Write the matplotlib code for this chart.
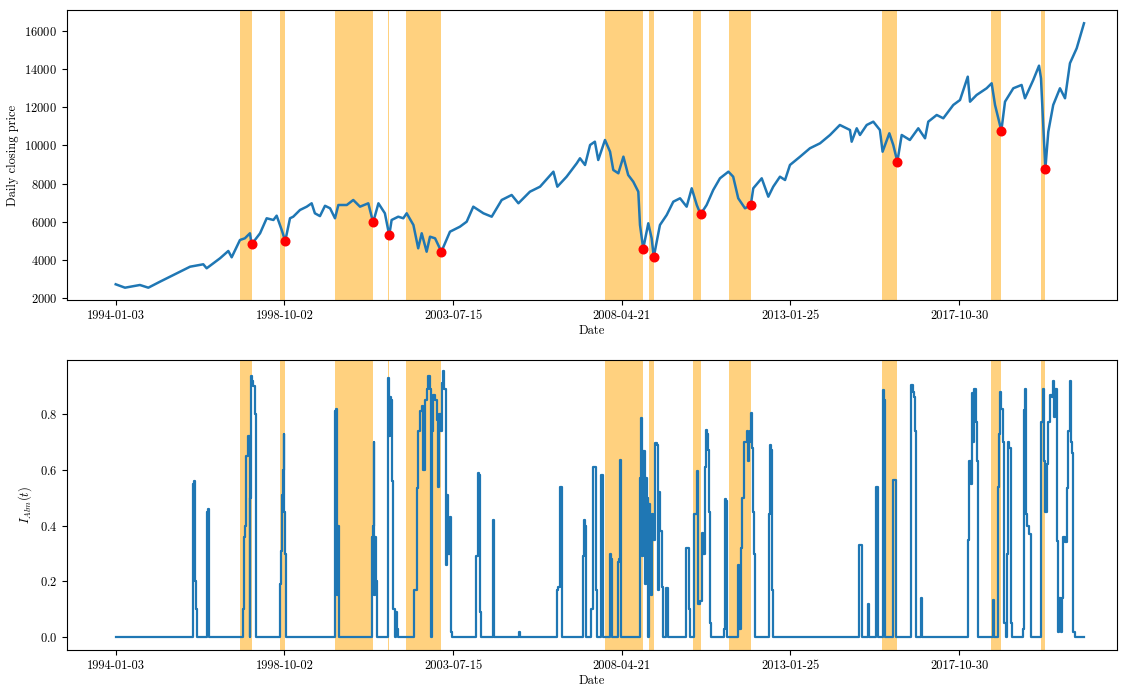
import numpy as np
import matplotlib
matplotlib.use('Agg')
import matplotlib.pyplot as plt

plt.rcParams['font.family'] = 'serif'
plt.rcParams['font.serif'] = ['cmr10']
plt.rcParams['mathtext.fontset'] = 'cm'
plt.rcParams['axes.formatter.use_mathtext'] = True
plt.rcParams['font.size'] = 9

# trading-day index -> date labels
tick_pos = [0, 1200, 2400, 3600, 4800, 6000]
tick_dates = ['1994-01-03', '1998-10-02', '2003-07-15', '2008-04-21', '2013-01-25', '2017-10-30']

# daily closing price (sampled)
price_t = [0, 66, 172, 232, 315, 434, 529, 623, 647, 742, 801, 825, 884, 919, 955, 967,
           1027, 1074, 1122, 1145, 1181, 1206, 1240, 1263, 1311, 1359, 1394, 1417, 1453, 1489,
           1525, 1560, 1584, 1644, 1690, 1738, 1797, 1821, 1833, 1869, 1915, 1946, 1963, 2010,
           2046, 2070, 2118, 2152, 2177, 2212, 2236, 2272, 2317, 2378, 2449, 2497, 2544, 2616,
           2675, 2746, 2817, 2865, 2947, 3019, 3114, 3142, 3208, 3280, 3303, 3339, 3375, 3409,
           3433, 3481, 3517, 3540, 3576, 3612, 3646, 3682, 3718, 3730, 3753, 3789, 3813, 3828,
           3872, 3920, 3967, 4015, 4062, 4098, 4134, 4161, 4204, 4251, 4299, 4359, 4393, 4429,
           4477, 4518, 4536, 4596, 4643, 4678, 4726, 4762, 4797, 4869, 4939, 5011, 5082, 5152,
           5224, 5236, 5272, 5295, 5343, 5390, 5437, 5456, 5504, 5532, 5561, 5592, 5650, 5710,
           5758, 5781, 5841, 5888, 5959, 6007, 6062, 6078, 6125, 6196, 6232, 6256, 6301, 6327,
           6386, 6445, 6469, 6528, 6569, 6583, 6614, 6635, 6670, 6718, 6754, 6789, 6837, 6889]
price = [2732, 2555, 2696, 2555, 2869, 3308, 3653, 3779, 3570, 4093, 4475, 4145, 5050, 5139, 5401, 4825,
         5401, 6186, 6097, 6322, 5573, 4998, 6186, 6269, 6620, 6793, 6970, 6447, 6300, 6840,
         6709, 6186, 6881, 6881, 7143, 6793, 6970, 6269, 6008, 6970, 6447, 5296, 6097, 6269,
         6186, 6447, 5835, 4616, 5401, 4438, 5223, 5139, 4438, 5484, 5746, 6008, 6793, 6447,
         6269, 7143, 7405, 6970, 7577, 7839, 8624, 7839, 8362, 9063, 9325, 8974, 10021, 10193,
         9236, 10282, 9670, 8713, 8540, 9409, 8451, 8101, 7577, 5835, 4595, 5924, 5139, 4161,
         5835, 6358, 7054, 7232, 6793, 7755, 6881, 6395, 6881, 7666, 8278, 8624, 8362, 7232,
         6709, 6866, 7755, 8278, 7316, 7839, 8362, 8189, 8974, 9409, 9848, 10109, 10544, 11067,
         10805, 10193, 10894, 10544, 11067, 11240, 10805, 9670, 10633, 10021, 9147, 10544, 10282, 10894,
         10371, 11240, 11590, 11418, 12114, 12375, 13594, 12286, 12637, 12987, 13249, 12114, 10769, 12286,
         12987, 13162, 12464, 13422, 14169, 13510, 8765, 10716, 12114, 12987, 12464, 14296, 15080, 16388]

# alarm periods and the crash days that close them
alarm_start = [884, 1169, 1560, 1940, 2065, 3481, 3794, 4106, 4363, 5451, 6227, 6583]
alarm_end = [967, 1206, 1833, 1946, 2317, 3753, 3828, 4161, 4518, 5561, 6301, 6614]
crash_price = [4825, 4998, 6008, 5296, 4438, 4595, 4161, 6395, 6866, 9147, 10769, 8765]

# alarm indicator I_Alm(t)
alm_t = [0, 545, 548, 552, 558, 562, 566, 570, 575,
         648, 651, 656, 661, 664,
         902, 905, 910, 918, 928, 940, 948, 952, 958, 963, 970, 978, 988, 994, 998,
         1168, 1171, 1175, 1180, 1188, 1196, 1200, 1204, 1208, 1211,
         1559, 1561, 1567, 1572, 1577, 1581, 1585, 1589,
         1820, 1822, 1828, 1835, 1840, 1846, 1851, 1856,
         1932, 1936, 1943, 1950, 1958, 1965, 1975, 1985, 1994, 2002, 2011,
         2122, 2125, 2141, 2152, 2164, 2177, 2188, 2200, 2212, 2224, 2236, 2243, 2253, 2260,
         2272, 2284, 2295, 2303, 2312, 2319, 2326, 2338, 2348, 2354, 2366, 2378, 2385, 2392,
         2562, 2565, 2576, 2585, 2592, 2599,
         2685, 2687, 2692, 2694,
         2870, 2872, 2874,
         3136, 3139, 3150, 3160, 3168, 3172,
         3320, 3322, 3332, 3340, 3344,
         3380, 3383, 3393, 3398, 3409, 3414, 3422, 3426,
         3452, 3454, 3464, 3469,
         3516, 3518, 3526, 3530, 3533,
         3568, 3571, 3582, 3586, 3592, 3595,
         3724, 3727, 3735, 3742, 3747, 3753, 3763, 3770, 3777, 3785,
         3793, 3796, 3803, 3810, 3816, 3825, 3839, 3849, 3856, 3863, 3872, 3884, 3891,
         3916, 3918, 3924, 3926,
         4056, 4060, 4068, 4076, 4086,
         4108, 4114, 4133, 4144, 4157, 4168, 4180, 4192, 4199, 4209, 4216, 4223, 4230, 4235,
         4322, 4326, 4333, 4340, 4347,
         4424, 4429, 4436, 4449, 4459, 4473, 4488, 4498, 4505, 4514, 4520, 4529, 4536, 4544, 4548,
         4641, 4646, 4652, 4664, 4671, 4678,
         5286, 5288, 5300, 5307,
         5347, 5349, 5358, 5360,
         5408, 5410, 5420, 5425,
         5455, 5458, 5468, 5476,
         5531, 5533, 5548, 5551,
         5656, 5659, 5670, 5680, 5688, 5693,
         5726, 5728, 5736, 5738,
         6064, 6066, 6073, 6083, 6092, 6102, 6109, 6120, 6129, 6137,
         6236, 6238, 6249, 6251,
         6271, 6274, 6282, 6291, 6301, 6310, 6320, 6334, 6343, 6351, 6358, 6370, 6377,
         6451, 6454, 6460, 6469, 6476, 6486, 6500, 6509,
         6575, 6583, 6595, 6605, 6612, 6623, 6634, 6646, 6658, 6665, 6675, 6684, 6694, 6704,
         6713, 6723, 6732, 6742, 6754, 6766, 6777, 6789, 6796, 6806, 6813, 6825, 6889]
alm = [0, 0, 0.40, 0.55, 0.56, 0.54, 0.20, 0.10, 0,
       0, 0.45, 0.46, 0.44, 0,
       0, 0.10, 0.36, 0.40, 0.65, 0.72, 0.72, 0.0, 0.50, 0.935, 0.92, 0.90, 0.86, 0.80, 0,
       0, 0.19, 0.31, 0.51, 0.60, 0.727, 0.45, 0.30, 0.05, 0,
       0, 0.81, 0.82, 0.80, 0.15, 0.40, 0.30, 0,
       0, 0.36, 0.40, 0.70, 0.15, 0.36, 0.20, 0,
       0, 0.93, 0.72, 0.86, 0.85, 0.56, 0.10, 0.0, 0.09, 0.03, 0,
       0, 0.17, 0.535, 0.74, 0.81, 0.83, 0.60, 0.85, 0.89, 0.935, 0.89, 0.0, 0.74, 0.87,
       0.85, 0.78, 0.54, 0.80, 0.74, 0.91, 0.953, 0.89, 0.26, 0.51, 0.30, 0.43, 0.02, 0,
       0, 0.29, 0.59, 0.58, 0.09, 0,
       0, 0.42, 0.42, 0,
       0, 0.02, 0,
       0, 0.17, 0.18, 0.54, 0.54, 0,
       0, 0.29, 0.42, 0.40, 0,
       0, 0.10, 0.46, 0.61, 0.61, 0.17, 0.17, 0,
       0, 0.58, 0.57, 0,
       0, 0.30, 0.28, 0.17, 0,
       0, 0.27, 0.28, 0.637, 0.60, 0,
       0, 0.571, 0.786, 0.72, 0.29, 0.667, 0.19, 0.57, 0.50, 0,
       0, 0.476, 0.29, 0.15, 0.44, 0.35, 0.697, 0.69, 0.17, 0.52, 0.38, 0.18, 0,
       0, 0.177, 0.177, 0,
       0, 0.32, 0.32, 0.10, 0,
       0, 0.44, 0.595, 0.12, 0.13, 0.374, 0.30, 0.61, 0.744, 0.73, 0.67, 0.45, 0.05, 0,
       0, 0.03, 0.494, 0.49, 0,
       0, 0.26, 0.03, 0.32, 0.50, 0.70, 0.74, 0.63, 0.70, 0.74, 0.804, 0.68, 0.45, 0.30, 0,
       0, 0.44, 0.69, 0.67, 0.17, 0,
       0, 0.33, 0.33, 0,
       0, 0.12, 0.12, 0,
       0, 0.54, 0.52, 0,
       0, 0.888, 0.85, 0,
       0, 0.565, 0.565, 0,
       0, 0.906, 0.88, 0.86, 0.74, 0,
       0, 0.14, 0.14, 0,
       0, 0.35, 0.63, 0.55, 0.876, 0.70, 0.89, 0.77, 0.63, 0,
       0, 0.135, 0.135, 0,
       0, 0.54, 0.73, 0.88, 0.82, 0.70, 0.05, 0.0, 0.30, 0.70, 0.68, 0.05, 0,
       0, 0.03, 0.816, 0.89, 0.44, 0.40, 0.37, 0,
       0, 0.77, 0.89, 0.63, 0.45, 0.62, 0.77, 0.87, 0.86, 0.918, 0.79, 0.89, 0.344, 0.02,
       0.14, 0.02, 0.14, 0.36, 0.34, 0.535, 0.74, 0.918, 0.70, 0.66, 0.02, 0, 0]

fig, (ax1, ax2) = plt.subplots(2, 1, figsize=(11.29, 6.87), dpi=100)
fig.subplots_adjust(left=0.0593, right=0.9894, top=0.9859, bottom=0.0534, hspace=0.2044)

for ax in (ax1, ax2):
    for s, e in zip(alarm_start, alarm_end):
        ax.axvspan(s, e, facecolor='orange', alpha=0.5, lw=0)

ax1.plot(price_t, price, color='#1f77b4', lw=1.8)
ax1.plot(alarm_end, crash_price, 'o', color='red', ms=6.2, zorder=5)
ax1.set_ylabel('Daily closing price')
ax1.set_ylim(1895, 17099)
ax1.set_yticks(np.arange(2000, 16001, 2000))

# the indicator jumps day to day, so draw it as steps
ax2.plot(alm_t, alm, color='#1f77b4', lw=1.6, drawstyle='steps-post')
ax2.set_ylabel(r'$I_{Alm}(t)$')
ax2.set_ylim(-0.047, 0.995)

for ax in (ax1, ax2):
    ax.set_xlim(-347, 7124)
    ax.set_xticks(tick_pos)
    ax.set_xticklabels(tick_dates)
    ax.set_xlabel('Date', labelpad=2)

plt.savefig('out.png', dpi=100)
plt.close('all')
